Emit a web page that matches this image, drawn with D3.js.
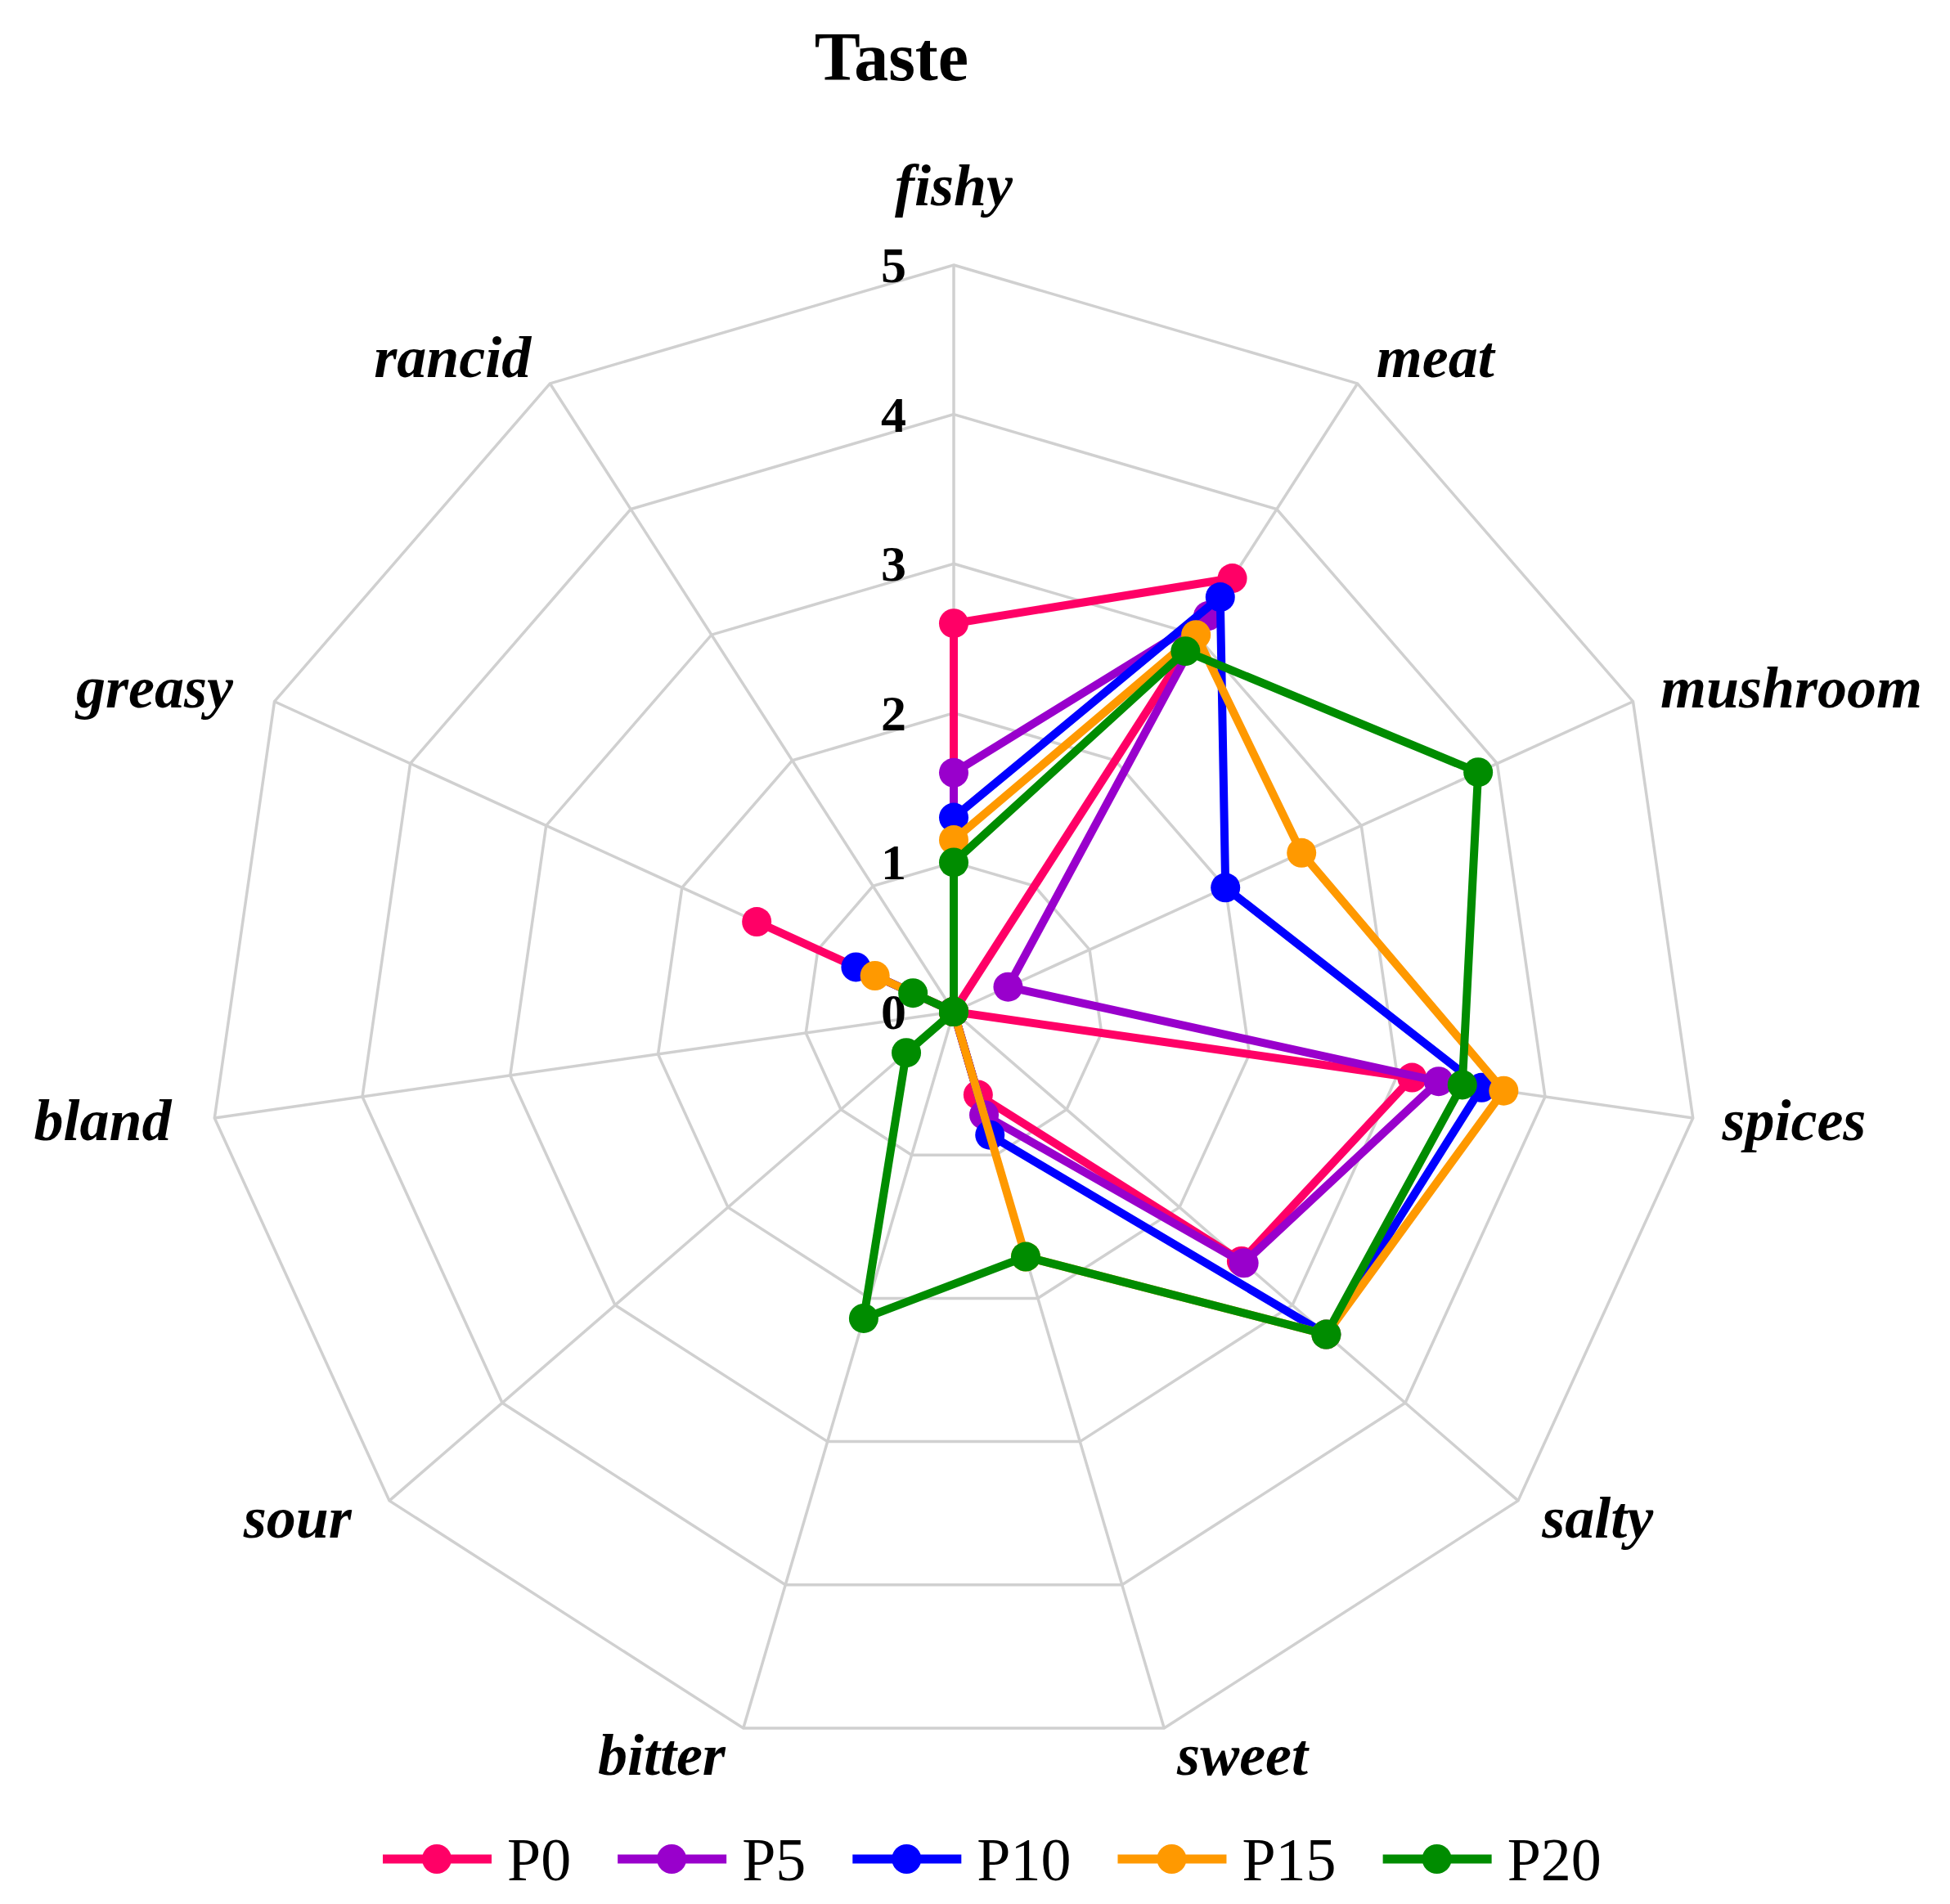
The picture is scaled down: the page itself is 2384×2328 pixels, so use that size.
<!DOCTYPE html>
<html>
<head>
<meta charset="utf-8">
<script src="https://cdn.jsdelivr.net/npm/d3@7"></script>
<style>
  body { margin: 0; background: #fff; }
  text { font-family: "Liberation Serif", "Times New Roman", serif; }
</style>
</head>
<body>
<svg id="chart" width="2384" height="2328"></svg>
<script>
let categories = ["fishy", "meat", "mushroom", "spices", "salty", "sweet", "bitter", "sour", "bland", "greasy", "rancid"];
let seriesNames = ["P0", "P5", "P10", "P15", "P20"];
let P0 = [2.6, 3.45, 0, 3.1, 2.55, 0.58, 0, 0, 0, 1.45, 0];
let P5 = [1.6, 3.15, 0.4, 3.28, 2.57, 0.72, 0, 0, 0, 0, 0];
let P10 = [1.3, 3.3, 2.0, 3.57, 3.3, 0.86, 0, 0, 0, 0.72, 0];
let P15 = [1.15, 3.0, 2.56, 3.72, 3.3, 1.71, 0, 0, 0, 0.58, 0];
let P20 = [1.0, 2.87, 3.86, 3.44, 3.3, 1.71, 2.14, 0.42, 0, 0.3, 0];
let ticks = [0, 1, 2, 3, 4, 5];
let colors = ["#ff0066", "#9900cc", "#0000ff", "#ff9900", "#008c00"];

let series = [P0, P5, P10, P15, P20];

let svg = d3.select("#chart");
let cx = 1166;
let cy = 1237;
let R = 913;

let r = d3.scaleLinear().domain([0, 5]).range([0, R]);
let angle = d3.scaleLinear().domain([0, categories.length]).range([0, 2 * Math.PI]);

let g = svg.append("g").attr("transform", `translate(${cx}, ${cy})`);

// grid polygons
let gridLine = d3
  .lineRadial()
  .angle(function (d, i) {
    return angle(i);
  })
  .radius(function (d) {
    return r(d);
  })
  .curve(d3.curveLinearClosed);

g.selectAll(".grid")
  .data(ticks.slice(1))
  .enter()
  .append("path")
  .attr("class", "grid")
  .attr("d", function (t) {
    return gridLine(categories.map(function () { return t; }));
  })
  .attr("fill", "none")
  .attr("stroke", "#d0d0d0")
  .attr("stroke-width", 3.5);

// spokes
g.selectAll(".spoke")
  .data(categories)
  .enter()
  .append("line")
  .attr("class", "spoke")
  .attr("x1", 0)
  .attr("y1", 0)
  .attr("x2", function (d, i) {
    return d3.pointRadial(angle(i), r(5))[0];
  })
  .attr("y2", function (d, i) {
    return d3.pointRadial(angle(i), r(5))[1];
  })
  .attr("stroke", "#d0d0d0")
  .attr("stroke-width", 3.5);

// tick labels
g.selectAll(".tick")
  .data(ticks)
  .enter()
  .append("text")
  .attr("class", "tick")
  .attr("x", -58)
  .attr("y", function (t) {
    return -r(t) + 21;
  })
  .attr("text-anchor", "end")
  .style("font-size", "62px")
  .style("font-weight", "bold")
  .text(function (t) {
    return t;
  });

// axis labels
g.selectAll(".axis-label")
  .data(categories)
  .enter()
  .append("text")
  .attr("class", "axis-label")
  .each(function (d, i) {
    let p = d3.pointRadial(angle(i), r(5));
    let dx = Math.sin(angle(i));
    let dy = -Math.cos(angle(i));
    let el = d3.select(this);
    if (Math.abs(dx) < 0.1) {
      el.attr("x", p[0]).attr("y", p[1] - 73).attr("text-anchor", "middle");
    } else {
      let pad = 8 + 28 * Math.abs(dx);
      if (dx < 0) {
        // left side labels sit a little further out
        pad += Math.abs(dx) > 0.6 ? 17 : Math.abs(dx) < 0.3 ? 6 : 0;
      }
      el.attr("x", p[0] + (dx > 0 ? pad : -pad))
        .attr("y", p[1] + 22 + 36 * dy)
        .attr("text-anchor", dx > 0 ? "start" : "end");
    }
  })
  .style("font-size", "72px")
  .style("font-style", "italic")
  .style("font-weight", "bold")
  .text(function (d) {
    return d;
  });

// series
let seriesLine = d3
  .lineRadial()
  .angle(function (d, i) {
    return angle(i);
  })
  .radius(function (d) {
    return r(d);
  })
  .curve(d3.curveLinearClosed);

let sg = g
  .selectAll(".series")
  .data(series)
  .enter()
  .append("g")
  .attr("class", "series");

sg.append("path")
  .attr("d", function (d) {
    return seriesLine(d);
  })
  .attr("fill", "none")
  .attr("stroke", function (d, i) {
    return colors[i];
  })
  .attr("stroke-width", 10)
  .attr("stroke-linejoin", "round");

sg.each(function (d, si) {
  d3.select(this)
    .selectAll("circle")
    .data(d)
    .enter()
    .append("circle")
    .attr("cx", function (v, i) {
      return d3.pointRadial(angle(i), r(v))[0];
    })
    .attr("cy", function (v, i) {
      return d3.pointRadial(angle(i), r(v))[1];
    })
    .attr("r", 18)
    .attr("fill", colors[si]);
});

// title
svg.append("text")
  .attr("x", 1090)
  .attr("y", 98)
  .attr("text-anchor", "middle")
  .style("font-size", "84px")
  .style("font-weight", "bold")
  .text("Taste");

// legend
let legend = svg.append("g").attr("transform", "translate(468, 2273)");
let lx = 0;
seriesNames.forEach(function (name, i) {
  let item = legend.append("g").attr("transform", `translate(${lx}, 0)`);
  item.append("line")
    .attr("x1", 0)
    .attr("x2", 133)
    .attr("y1", 0)
    .attr("y2", 0)
    .attr("stroke", colors[i])
    .attr("stroke-width", 11);
  item.append("circle")
    .attr("cx", 66)
    .attr("cy", 0)
    .attr("r", 18)
    .attr("fill", colors[i]);
  let t = item.append("text")
    .attr("x", 152)
    .attr("y", 26)
    .style("font-size", "74px")
    .text(name);
  lx += 152 + t.node().getComputedTextLength() + 57;
});
</script>
</body>
</html>
